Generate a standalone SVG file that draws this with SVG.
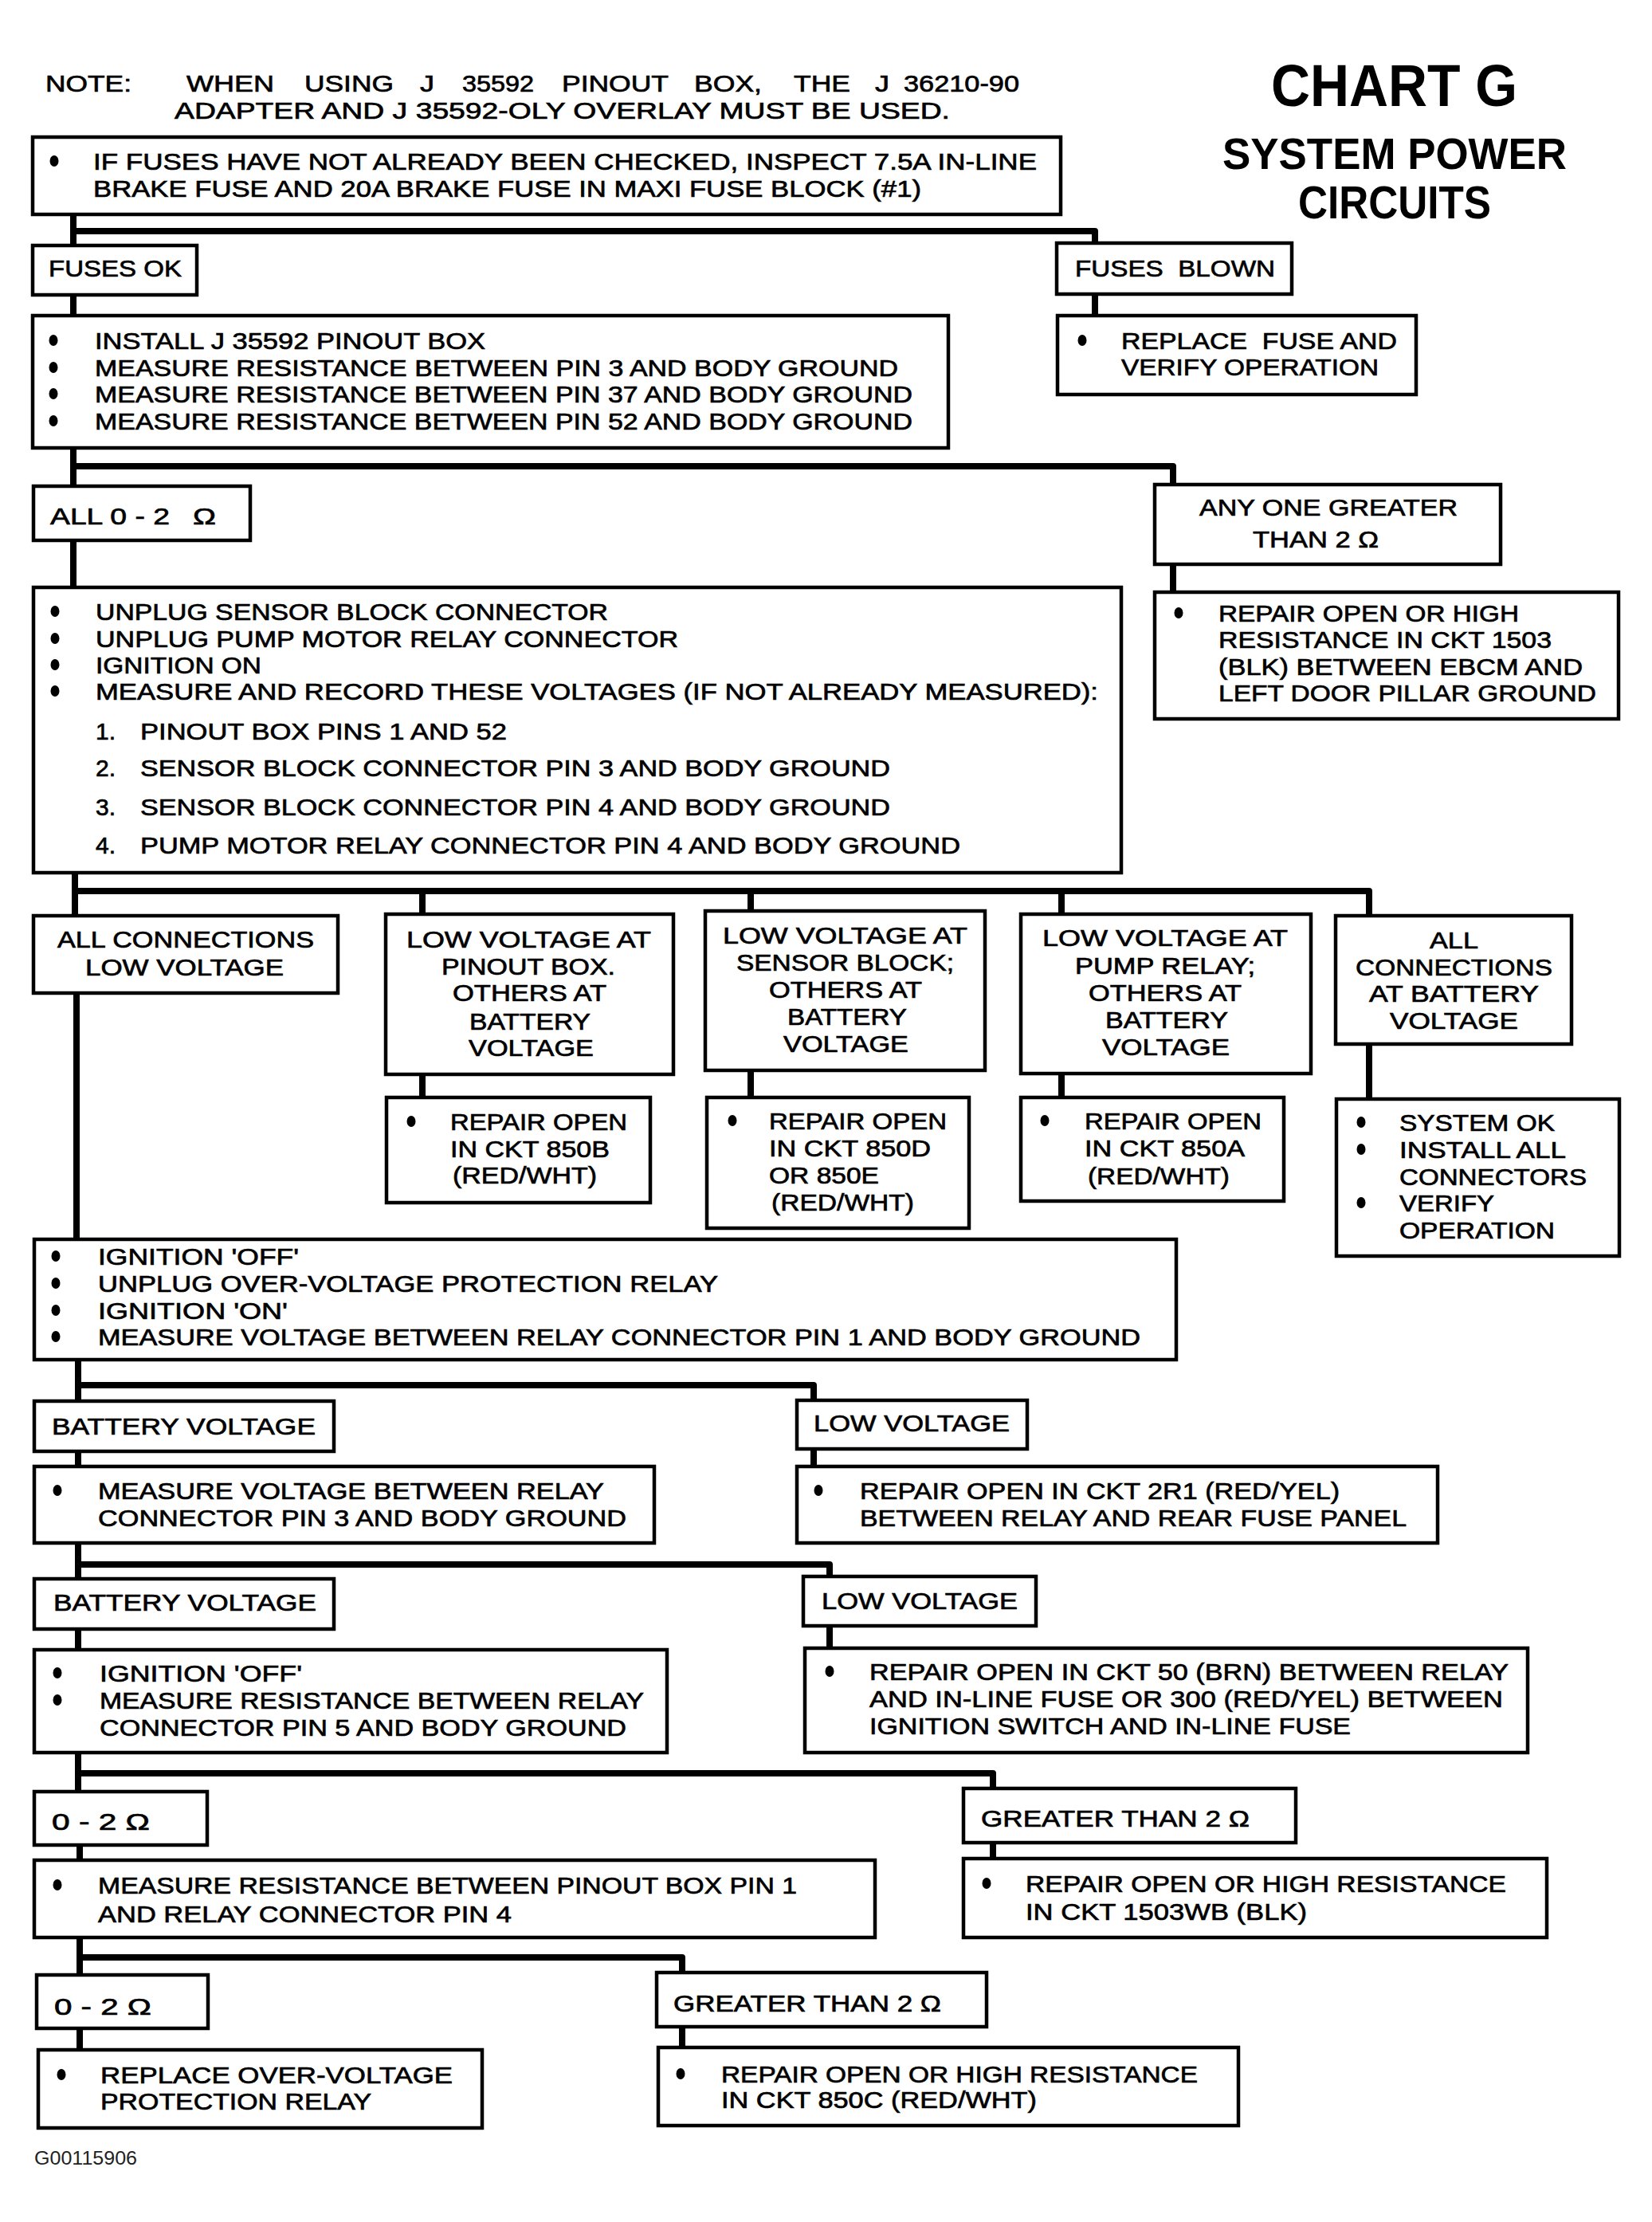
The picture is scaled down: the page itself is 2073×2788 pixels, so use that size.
<svg xmlns="http://www.w3.org/2000/svg" xmlns:xlink="http://www.w3.org/1999/xlink" width="2073" height="2788" viewBox="0 0 2073 2788">
<style>
.box{fill:#fff;stroke:#000;stroke-width:4.5}
.conn{fill:none;stroke:#000;stroke-width:8;stroke-linejoin:round;stroke-linecap:butt}
text{font-family:"Liberation Sans",Arial,sans-serif;fill:#000}
.t{font-size:30px;stroke:#000;stroke-width:0.7}
.h{font-weight:bold}
.id{font-size:23px;fill:#222}
</style>
<defs>
<ellipse id="dot" cx="0" cy="0" rx="5.5" ry="7" fill="#000"/>
</defs>
<rect width="2073" height="2788" fill="#fff"/>
<g id="header">
<text class="t" x="57" y="115" textLength="108" lengthAdjust="spacingAndGlyphs">NOTE:</text>
<text class="t" x="234" y="115" textLength="110" lengthAdjust="spacingAndGlyphs">WHEN</text>
<text class="t" x="382" y="115" textLength="112" lengthAdjust="spacingAndGlyphs">USING</text>
<text class="t" x="527" y="115" textLength="18" lengthAdjust="spacingAndGlyphs">J</text>
<text class="t" x="580" y="115" textLength="90" lengthAdjust="spacingAndGlyphs">35592</text>
<text class="t" x="705" y="115" textLength="134" lengthAdjust="spacingAndGlyphs">PINOUT</text>
<text class="t" x="871" y="115" textLength="85" lengthAdjust="spacingAndGlyphs">BOX,</text>
<text class="t" x="996" y="115" textLength="71" lengthAdjust="spacingAndGlyphs">THE</text>
<text class="t" x="1098" y="115" textLength="18" lengthAdjust="spacingAndGlyphs">J</text>
<text class="t" x="1134" y="115" textLength="145" lengthAdjust="spacingAndGlyphs">36210-90</text>
<text class="t" x="219" y="149" textLength="973" lengthAdjust="spacingAndGlyphs">ADAPTER AND J 35592-OLY OVERLAY MUST BE USED.</text>
<text class="h" x="1595" y="133" font-size="74" textLength="309" lengthAdjust="spacingAndGlyphs">CHART G</text>
<text class="h" x="1534" y="212" font-size="55" textLength="432" lengthAdjust="spacingAndGlyphs">SYSTEM POWER</text>
<text class="h" x="1629" y="274" font-size="57" textLength="242" lengthAdjust="spacingAndGlyphs">CIRCUITS</text>
</g>
<g id="connectors">
<path class="conn" d="M92,269 V308 M92,290 H1374 V305 M1374,369 V396 M92,370 V396"/>
<path class="conn" d="M92,562 V612 M92,585 H1472 V608 M1472,708 V743 M92,678 V737"/>
<path class="conn" d="M94,1095 V1149 M94,1118 H1718 V1149 M530,1118 V1147 M942,1118 V1143 M1332,1118 V1147"/>
<path class="conn" d="M530,1348 V1377 M942,1343 V1377 M1332,1347 V1377 M1718,1310 V1379 M96,1246 V1555"/>
<path class="conn" d="M98,1706 V1758 M98,1738 H1021 V1757 M98,1821 V1840 M1021,1818 V1840"/>
<path class="conn" d="M98,1936 V1981 M98,1963 H1041 V1978 M98,2044 V2070 M1041,2040 V2068"/>
<path class="conn" d="M98,2199 V2248 M98,2225 H1246 V2244 M100,2315 V2334 M1246,2312 V2332"/>
<path class="conn" d="M100,2431 V2478 M100,2456 H856 V2475 M100,2545 V2572 M856,2543 V2569"/>
</g>
<g id="n-fuse-check">
<rect class="box" x="41" y="172" width="1290" height="97"/>
<use xlink:href="#dot" x="68" y="202"/>
<text class="t" x="117" y="213" textLength="1184" lengthAdjust="spacingAndGlyphs">IF FUSES HAVE NOT ALREADY BEEN CHECKED, INSPECT 7.5A IN-LINE</text>
<text class="t" x="117" y="247" textLength="1039" lengthAdjust="spacingAndGlyphs">BRAKE FUSE AND 20A BRAKE FUSE IN MAXI FUSE BLOCK (#1)</text>
</g>
<g id="n-fuses-ok">
<rect class="box" x="41" y="308" width="206" height="62"/>
<text class="t" x="61" y="347" textLength="167" lengthAdjust="spacingAndGlyphs">FUSES OK</text>
</g>
<g id="n-fuses-blown">
<rect class="box" x="1326" y="305" width="295" height="64"/>
<text class="t" x="1349" y="347" textLength="251" lengthAdjust="spacingAndGlyphs" xml:space="preserve">FUSES  BLOWN</text>
</g>
<g id="n-replace-fuse">
<rect class="box" x="1327" y="396" width="450" height="99"/>
<use xlink:href="#dot" x="1358" y="427"/>
<text class="t" x="1407" y="438" textLength="346" lengthAdjust="spacingAndGlyphs" xml:space="preserve">REPLACE  FUSE AND</text>
<text class="t" x="1407" y="471" textLength="323" lengthAdjust="spacingAndGlyphs">VERIFY OPERATION</text>
</g>
<g id="n-install">
<rect class="box" x="41" y="396" width="1149" height="166"/>
<use xlink:href="#dot" x="67" y="427"/>
<use xlink:href="#dot" x="67" y="461"/>
<use xlink:href="#dot" x="67" y="494"/>
<use xlink:href="#dot" x="67" y="528"/>
<text class="t" x="119" y="438" textLength="490" lengthAdjust="spacingAndGlyphs">INSTALL J 35592 PINOUT BOX</text>
<text class="t" x="119" y="472" textLength="1008" lengthAdjust="spacingAndGlyphs">MEASURE RESISTANCE BETWEEN PIN 3 AND BODY GROUND</text>
<text class="t" x="119" y="505" textLength="1026" lengthAdjust="spacingAndGlyphs">MEASURE RESISTANCE BETWEEN PIN 37 AND BODY GROUND</text>
<text class="t" x="119" y="539" textLength="1026" lengthAdjust="spacingAndGlyphs">MEASURE RESISTANCE BETWEEN PIN 52 AND BODY GROUND</text>
</g>
<g id="n-all-0-2">
<rect class="box" x="42" y="610" width="272" height="68"/>
<text class="t" x="63" y="658" textLength="150" lengthAdjust="spacingAndGlyphs">ALL 0 - 2</text>
<text class="t" x="242" y="658" textLength="29" lengthAdjust="spacingAndGlyphs">Ω</text>
</g>
<g id="n-any-one">
<rect class="box" x="1449" y="608" width="434" height="100"/>
<text class="t" x="1505" y="647" textLength="324" lengthAdjust="spacingAndGlyphs">ANY ONE GREATER</text>
<text class="t" x="1572" y="687" textLength="158" lengthAdjust="spacingAndGlyphs">THAN 2 Ω</text>
</g>
<g id="n-repair-1503">
<rect class="box" x="1449" y="743" width="582" height="159"/>
<use xlink:href="#dot" x="1479" y="769"/>
<text class="t" x="1529" y="780" textLength="377" lengthAdjust="spacingAndGlyphs">REPAIR OPEN OR HIGH</text>
<text class="t" x="1529" y="813" textLength="418" lengthAdjust="spacingAndGlyphs">RESISTANCE IN CKT 1503</text>
<text class="t" x="1529" y="847" textLength="457" lengthAdjust="spacingAndGlyphs">(BLK) BETWEEN EBCM AND</text>
<text class="t" x="1529" y="880" textLength="474" lengthAdjust="spacingAndGlyphs">LEFT DOOR PILLAR GROUND</text>
</g>
<g id="n-unplug">
<rect class="box" x="42" y="737" width="1365" height="358"/>
<use xlink:href="#dot" x="69" y="767"/>
<use xlink:href="#dot" x="69" y="801"/>
<use xlink:href="#dot" x="69" y="834"/>
<use xlink:href="#dot" x="69" y="867"/>
<text class="t" x="120" y="778" textLength="643" lengthAdjust="spacingAndGlyphs">UNPLUG SENSOR BLOCK CONNECTOR</text>
<text class="t" x="120" y="812" textLength="731" lengthAdjust="spacingAndGlyphs">UNPLUG PUMP MOTOR RELAY CONNECTOR</text>
<text class="t" x="120" y="845" textLength="208" lengthAdjust="spacingAndGlyphs">IGNITION ON</text>
<text class="t" x="120" y="878" textLength="1258" lengthAdjust="spacingAndGlyphs">MEASURE AND RECORD THESE VOLTAGES (IF NOT ALREADY MEASURED):</text>
<text class="t" x="120" y="928">1.</text>
<text class="t" x="176" y="928" textLength="460" lengthAdjust="spacingAndGlyphs">PINOUT BOX PINS 1 AND 52</text>
<text class="t" x="120" y="974">2.</text>
<text class="t" x="176" y="974" textLength="941" lengthAdjust="spacingAndGlyphs">SENSOR BLOCK CONNECTOR PIN 3 AND BODY GROUND</text>
<text class="t" x="120" y="1023">3.</text>
<text class="t" x="176" y="1023" textLength="941" lengthAdjust="spacingAndGlyphs">SENSOR BLOCK CONNECTOR PIN 4 AND BODY GROUND</text>
<text class="t" x="120" y="1071">4.</text>
<text class="t" x="176" y="1071" textLength="1029" lengthAdjust="spacingAndGlyphs">PUMP MOTOR RELAY CONNECTOR PIN 4 AND BODY GROUND</text>
</g>
<g id="n-all-low">
<rect class="box" x="42" y="1149" width="382" height="97"/>
<text class="t" x="72" y="1189" textLength="322" lengthAdjust="spacingAndGlyphs">ALL CONNECTIONS</text>
<text class="t" x="107" y="1224" textLength="249" lengthAdjust="spacingAndGlyphs">LOW VOLTAGE</text>
</g>
<g id="n-low-pinout">
<rect class="box" x="484" y="1147" width="361" height="201"/>
<text class="t" x="510" y="1189" textLength="307" lengthAdjust="spacingAndGlyphs">LOW VOLTAGE AT</text>
<text class="t" x="554" y="1223" textLength="218" lengthAdjust="spacingAndGlyphs">PINOUT BOX.</text>
<text class="t" x="568" y="1256" textLength="193" lengthAdjust="spacingAndGlyphs">OTHERS AT</text>
<text class="t" x="589" y="1292" textLength="152" lengthAdjust="spacingAndGlyphs">BATTERY</text>
<text class="t" x="588" y="1325" textLength="157" lengthAdjust="spacingAndGlyphs">VOLTAGE</text>
</g>
<g id="n-repair-850b">
<rect class="box" x="485" y="1377" width="331" height="132"/>
<use xlink:href="#dot" x="516" y="1407"/>
<text class="t" x="565" y="1418" textLength="222" lengthAdjust="spacingAndGlyphs">REPAIR OPEN</text>
<text class="t" x="565" y="1452" textLength="200" lengthAdjust="spacingAndGlyphs">IN CKT 850B</text>
<text class="t" x="568" y="1485" textLength="181" lengthAdjust="spacingAndGlyphs">(RED/WHT)</text>
</g>
<g id="n-low-sensor">
<rect class="box" x="885" y="1143" width="351" height="200"/>
<text class="t" x="907" y="1184" textLength="307" lengthAdjust="spacingAndGlyphs">LOW VOLTAGE AT</text>
<text class="t" x="924" y="1218" textLength="273" lengthAdjust="spacingAndGlyphs">SENSOR BLOCK;</text>
<text class="t" x="965" y="1252" textLength="192" lengthAdjust="spacingAndGlyphs">OTHERS AT</text>
<text class="t" x="988" y="1286" textLength="150" lengthAdjust="spacingAndGlyphs">BATTERY</text>
<text class="t" x="983" y="1320" textLength="157" lengthAdjust="spacingAndGlyphs">VOLTAGE</text>
</g>
<g id="n-repair-850d">
<rect class="box" x="887" y="1377" width="329" height="164"/>
<use xlink:href="#dot" x="919" y="1406"/>
<text class="t" x="965" y="1417" textLength="223" lengthAdjust="spacingAndGlyphs">REPAIR OPEN</text>
<text class="t" x="965" y="1451" textLength="203" lengthAdjust="spacingAndGlyphs">IN CKT 850D</text>
<text class="t" x="965" y="1485" textLength="138" lengthAdjust="spacingAndGlyphs">OR 850E</text>
<text class="t" x="968" y="1519" textLength="179" lengthAdjust="spacingAndGlyphs">(RED/WHT)</text>
</g>
<g id="n-low-pump">
<rect class="box" x="1281" y="1147" width="364" height="200"/>
<text class="t" x="1308" y="1187" textLength="308" lengthAdjust="spacingAndGlyphs">LOW VOLTAGE AT</text>
<text class="t" x="1349" y="1222" textLength="226" lengthAdjust="spacingAndGlyphs">PUMP RELAY;</text>
<text class="t" x="1366" y="1256" textLength="192" lengthAdjust="spacingAndGlyphs">OTHERS AT</text>
<text class="t" x="1387" y="1290" textLength="154" lengthAdjust="spacingAndGlyphs">BATTERY</text>
<text class="t" x="1383" y="1324" textLength="160" lengthAdjust="spacingAndGlyphs">VOLTAGE</text>
</g>
<g id="n-repair-850a">
<rect class="box" x="1281" y="1377" width="330" height="130"/>
<use xlink:href="#dot" x="1311" y="1406"/>
<text class="t" x="1361" y="1417" textLength="222" lengthAdjust="spacingAndGlyphs">REPAIR OPEN</text>
<text class="t" x="1361" y="1451" textLength="201" lengthAdjust="spacingAndGlyphs">IN CKT 850A</text>
<text class="t" x="1365" y="1486" textLength="178" lengthAdjust="spacingAndGlyphs">(RED/WHT)</text>
</g>
<g id="n-all-battery">
<rect class="box" x="1676" y="1149" width="296" height="161"/>
<text class="t" x="1794" y="1190" textLength="61" lengthAdjust="spacingAndGlyphs">ALL</text>
<text class="t" x="1701" y="1224" textLength="247" lengthAdjust="spacingAndGlyphs">CONNECTIONS</text>
<text class="t" x="1718" y="1257" textLength="213" lengthAdjust="spacingAndGlyphs">AT BATTERY</text>
<text class="t" x="1744" y="1291" textLength="161" lengthAdjust="spacingAndGlyphs">VOLTAGE</text>
</g>
<g id="n-system-ok">
<rect class="box" x="1677" y="1379" width="355" height="197"/>
<use xlink:href="#dot" x="1708" y="1408"/>
<use xlink:href="#dot" x="1708" y="1442"/>
<use xlink:href="#dot" x="1708" y="1509"/>
<text class="t" x="1756" y="1419" textLength="195" lengthAdjust="spacingAndGlyphs">SYSTEM OK</text>
<text class="t" x="1756" y="1453" textLength="209" lengthAdjust="spacingAndGlyphs">INSTALL ALL</text>
<text class="t" x="1756" y="1487" textLength="235" lengthAdjust="spacingAndGlyphs">CONNECTORS</text>
<text class="t" x="1756" y="1520" textLength="119" lengthAdjust="spacingAndGlyphs">VERIFY</text>
<text class="t" x="1756" y="1554" textLength="195" lengthAdjust="spacingAndGlyphs">OPERATION</text>
</g>
<g id="n-ign-off-1">
<rect class="box" x="43" y="1555" width="1433" height="151"/>
<use xlink:href="#dot" x="70" y="1576"/>
<use xlink:href="#dot" x="70" y="1610"/>
<use xlink:href="#dot" x="70" y="1644"/>
<use xlink:href="#dot" x="70" y="1677"/>
<text class="t" x="123" y="1587" textLength="252" lengthAdjust="spacingAndGlyphs">IGNITION 'OFF'</text>
<text class="t" x="123" y="1621" textLength="778" lengthAdjust="spacingAndGlyphs">UNPLUG OVER-VOLTAGE PROTECTION RELAY</text>
<text class="t" x="123" y="1655" textLength="238" lengthAdjust="spacingAndGlyphs">IGNITION 'ON'</text>
<text class="t" x="123" y="1688" textLength="1308" lengthAdjust="spacingAndGlyphs">MEASURE VOLTAGE BETWEEN RELAY CONNECTOR PIN 1 AND BODY GROUND</text>
</g>
<g id="n-battery-1">
<rect class="box" x="43" y="1758" width="376" height="63"/>
<text class="t" x="65" y="1800" textLength="331" lengthAdjust="spacingAndGlyphs">BATTERY VOLTAGE</text>
</g>
<g id="n-low-1">
<rect class="box" x="1000" y="1757" width="289" height="61"/>
<text class="t" x="1021" y="1796" textLength="246" lengthAdjust="spacingAndGlyphs">LOW VOLTAGE</text>
</g>
<g id="n-measure-pin3">
<rect class="box" x="43" y="1840" width="778" height="96"/>
<use xlink:href="#dot" x="72" y="1870"/>
<text class="t" x="123" y="1881" textLength="635" lengthAdjust="spacingAndGlyphs">MEASURE VOLTAGE BETWEEN RELAY</text>
<text class="t" x="123" y="1915" textLength="663" lengthAdjust="spacingAndGlyphs">CONNECTOR PIN 3 AND BODY GROUND</text>
</g>
<g id="n-repair-2r1">
<rect class="box" x="1000" y="1840" width="804" height="96"/>
<use xlink:href="#dot" x="1027" y="1870"/>
<text class="t" x="1079" y="1881" textLength="602" lengthAdjust="spacingAndGlyphs">REPAIR OPEN IN CKT 2R1 (RED/YEL)</text>
<text class="t" x="1079" y="1915" textLength="686" lengthAdjust="spacingAndGlyphs">BETWEEN RELAY AND REAR FUSE PANEL</text>
</g>
<g id="n-battery-2">
<rect class="box" x="43" y="1981" width="376" height="63"/>
<text class="t" x="67" y="2021" textLength="330" lengthAdjust="spacingAndGlyphs">BATTERY VOLTAGE</text>
</g>
<g id="n-low-2">
<rect class="box" x="1008" y="1978" width="292" height="62"/>
<text class="t" x="1031" y="2019" textLength="246" lengthAdjust="spacingAndGlyphs">LOW VOLTAGE</text>
</g>
<g id="n-ign-off-2">
<rect class="box" x="43" y="2070" width="794" height="129"/>
<use xlink:href="#dot" x="72" y="2099"/>
<use xlink:href="#dot" x="72" y="2133"/>
<text class="t" x="125" y="2110" textLength="254" lengthAdjust="spacingAndGlyphs">IGNITION 'OFF'</text>
<text class="t" x="125" y="2144" textLength="683" lengthAdjust="spacingAndGlyphs">MEASURE RESISTANCE BETWEEN RELAY</text>
<text class="t" x="125" y="2178" textLength="661" lengthAdjust="spacingAndGlyphs">CONNECTOR PIN 5 AND BODY GROUND</text>
</g>
<g id="n-repair-50">
<rect class="box" x="1010" y="2068" width="907" height="131"/>
<use xlink:href="#dot" x="1041" y="2097"/>
<text class="t" x="1091" y="2108" textLength="802" lengthAdjust="spacingAndGlyphs">REPAIR OPEN IN CKT 50 (BRN) BETWEEN RELAY</text>
<text class="t" x="1091" y="2142" textLength="795" lengthAdjust="spacingAndGlyphs">AND IN-LINE FUSE OR 300 (RED/YEL) BETWEEN</text>
<text class="t" x="1091" y="2176" textLength="604" lengthAdjust="spacingAndGlyphs">IGNITION SWITCH AND IN-LINE FUSE</text>
</g>
<g id="n-0-2-a">
<rect class="box" x="43" y="2248" width="217" height="67"/>
<text class="t" x="65" y="2296" textLength="123" lengthAdjust="spacingAndGlyphs">0 - 2 Ω</text>
</g>
<g id="n-greater-a">
<rect class="box" x="1209" y="2244" width="417" height="68"/>
<text class="t" x="1231" y="2292" textLength="337" lengthAdjust="spacingAndGlyphs">GREATER THAN 2 Ω</text>
</g>
<g id="n-measure-pin1">
<rect class="box" x="43" y="2334" width="1055" height="97"/>
<use xlink:href="#dot" x="72" y="2365"/>
<text class="t" x="123" y="2376" textLength="877" lengthAdjust="spacingAndGlyphs">MEASURE RESISTANCE BETWEEN PINOUT BOX PIN 1</text>
<text class="t" x="123" y="2412" textLength="519" lengthAdjust="spacingAndGlyphs">AND RELAY CONNECTOR PIN 4</text>
</g>
<g id="n-repair-1503wb">
<rect class="box" x="1209" y="2332" width="732" height="99"/>
<use xlink:href="#dot" x="1238" y="2363"/>
<text class="t" x="1287" y="2374" textLength="603" lengthAdjust="spacingAndGlyphs">REPAIR OPEN OR HIGH RESISTANCE</text>
<text class="t" x="1287" y="2409" textLength="353" lengthAdjust="spacingAndGlyphs">IN CKT 1503WB (BLK)</text>
</g>
<g id="n-0-2-b">
<rect class="box" x="46" y="2478" width="215" height="67"/>
<text class="t" x="68" y="2528" textLength="122" lengthAdjust="spacingAndGlyphs">0 - 2 Ω</text>
</g>
<g id="n-greater-b">
<rect class="box" x="824" y="2475" width="414" height="68"/>
<text class="t" x="845" y="2524" textLength="336" lengthAdjust="spacingAndGlyphs">GREATER THAN 2 Ω</text>
</g>
<g id="n-replace-relay">
<rect class="box" x="48" y="2572" width="557" height="98"/>
<use xlink:href="#dot" x="77" y="2603"/>
<text class="t" x="126" y="2614" textLength="442" lengthAdjust="spacingAndGlyphs">REPLACE OVER-VOLTAGE</text>
<text class="t" x="126" y="2647" textLength="340" lengthAdjust="spacingAndGlyphs">PROTECTION RELAY</text>
</g>
<g id="n-repair-850c">
<rect class="box" x="826" y="2569" width="728" height="98"/>
<use xlink:href="#dot" x="854" y="2602"/>
<text class="t" x="905" y="2613" textLength="598" lengthAdjust="spacingAndGlyphs">REPAIR OPEN OR HIGH RESISTANCE</text>
<text class="t" x="905" y="2645" textLength="396" lengthAdjust="spacingAndGlyphs">IN CKT 850C (RED/WHT)</text>
</g>
<text class="id" x="43" y="2716" textLength="129" lengthAdjust="spacingAndGlyphs">G00115906</text>
</svg>
